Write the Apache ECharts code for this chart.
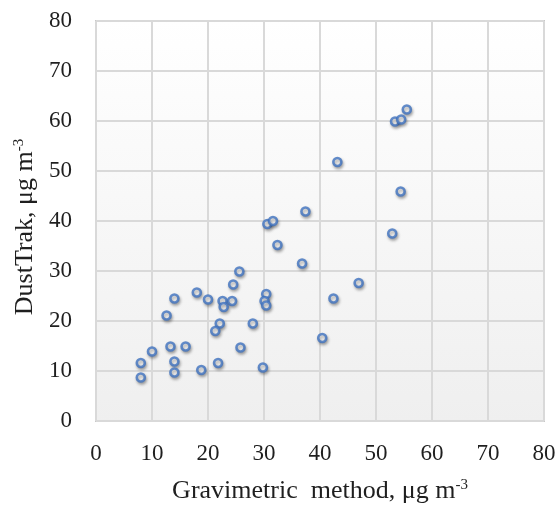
<!DOCTYPE html>
<html>
<head>
<meta charset="utf-8">
<script src="https://cdn.jsdelivr.net/npm/echarts@6/dist/echarts.min.js"></script>
<style>html,body{margin:0;padding:0;background:#fff;}#c{width:559px;height:508px;}</style>
</head>
<body>
<div id="c"></div>
<script>
const xTicks = [0, 10, 20, 30, 40, 50, 60, 70, 80];
const yTicks = [0, 10, 20, 30, 40, 50, 60, 70, 80];
const gravimetric = [55.5, 53.4, 54.5, 43.1, 54.4, 37.4, 30.6, 31.6, 52.9, 32.4,
  36.8, 25.6, 24.5, 46.9, 18.0, 14.0, 20.0, 22.6, 24.3, 22.8,
  30.4, 30.1, 30.4, 42.4, 12.6, 22.1, 21.3, 28.0, 40.4, 10.0,
  13.3, 16.0, 25.8, 8.0, 14.0, 21.8, 8.0, 14.0, 18.8, 29.8];
const dustTrak = [62.3, 59.9, 60.3, 51.8, 45.9, 41.9, 39.4, 40.0, 37.5, 35.2,
  31.5, 29.9, 27.3, 27.6, 25.7, 24.5, 24.3, 24.0, 24.0, 22.8,
  25.4, 24.0, 23.1, 24.5, 21.1, 19.5, 18.0, 19.5, 16.6, 13.9,
  14.9, 14.9, 14.7, 11.6, 11.9, 11.6, 8.7, 9.7, 10.2, 10.7];
const xTitle = 'Gravimetric  method, μg m';
const yTitle = 'DustTrak, μg m';
const sup = '-3';

const chart = echarts.init(document.getElementById('c'));
const font = '"Liberation Serif", "Times New Roman", serif';
const textColor = '#1f1f1f';
const rich = {
  t: {fontSize: 26, fontFamily: font, color: textColor},
  s: {fontSize: 15, fontFamily: font, color: textColor, verticalAlign: 'top', padding: [0, 0, 11, 0]}
};
chart.setOption({
  animation: false,
  textStyle: {fontFamily: font},
  grid: {
    left: 96, right: 15, top: 21, bottom: 87,
    containLabel: false,
    outerBoundsMode: 'none',
    show: true,
    borderColor: '#c8c8c8', borderWidth: 2,
    backgroundColor: new echarts.graphic.LinearGradient(0, 0, 0, 1, [
      {offset: 0, color: '#ffffff'}, {offset: 1, color: '#efefef'}])
  },
  xAxis: {
    type: 'value', min: xTicks[0], max: xTicks[xTicks.length - 1], interval: 10,
    axisLine: {show: false}, axisTick: {show: false},
    splitLine: {lineStyle: {color: '#d9d9d9', width: 2}},
    axisLabel: {color: textColor, fontSize: 23, fontFamily: font, margin: 21},
    name: '{t|' + xTitle + '}{s|' + sup + '}',
    nameLocation: 'middle', nameGap: 57,
    nameTextStyle: {rich: rich}
  },
  yAxis: {
    type: 'value', min: yTicks[0], max: yTicks[yTicks.length - 1], interval: 10,
    axisLine: {show: false}, axisTick: {show: false},
    splitLine: {lineStyle: {color: '#d9d9d9', width: 2}},
    axisLabel: {color: textColor, fontSize: 23, fontFamily: font, margin: 24},
    name: '{t|' + yTitle + '}{s|' + sup + '}',
    nameLocation: 'middle', nameGap: 58, nameRotate: 90,
    nameTextStyle: {rich: rich, padding: [0, 12, 0, 0]}
  },
  series: [{
    type: 'scatter',
    data: gravimetric.map((x, i) => [x, dustTrak[i]]),
    symbol: 'circle', symbolSize: 8,
    itemStyle: {
      color: '#ffffff', borderColor: '#3f72bf', borderWidth: 2.6,
      shadowBlur: 3, shadowColor: 'rgba(0,0,0,0.35)', shadowOffsetY: 2, shadowOffsetX: 1
    }
  }]
});
</script>
</body>
</html>
